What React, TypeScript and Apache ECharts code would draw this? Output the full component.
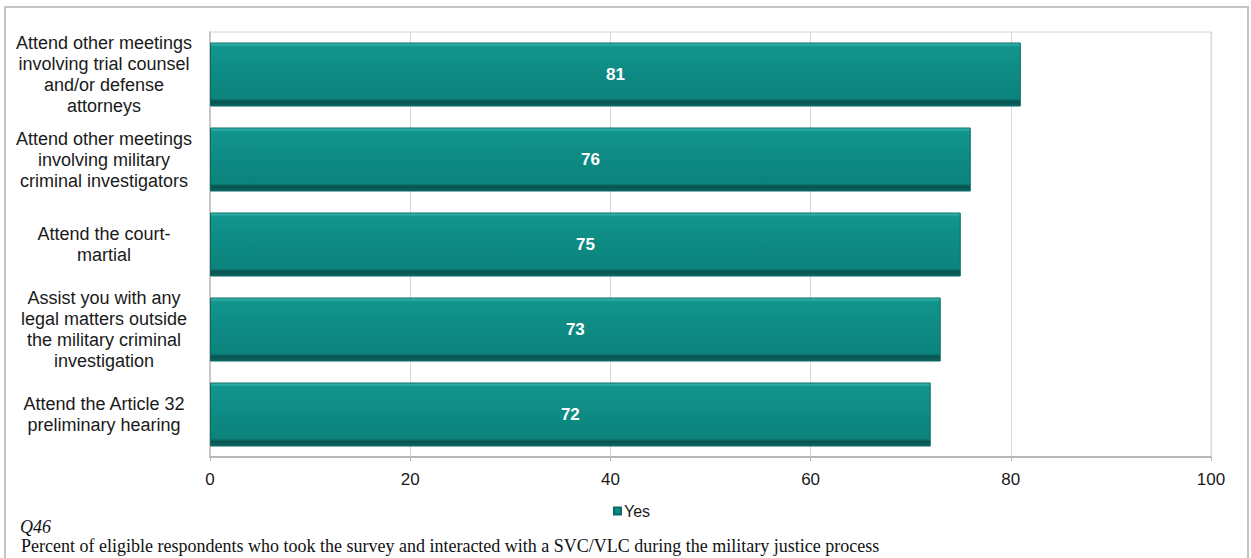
import React, { useEffect, useRef } from "react";
import * as echarts from "echarts";

const categories = [
  "Attend other meetings\ninvolving trial counsel\nand/or defense\nattorneys",
  "Attend other meetings\ninvolving military\ncriminal investigators",
  "Attend the court-\nmartial",
  "Assist you with any\nlegal matters outside\nthe military criminal\ninvestigation",
  "Attend the Article 32\npreliminary hearing",
];
const yesValues = [81, 76, 75, 73, 72];
const seriesName = "Yes";
const questionLabel = "Q46";
const footnote =
  "Percent of eligible respondents who took the survey and interacted with a SVC/VLC during the military justice process";

export default function App() {
  const ref = useRef<HTMLDivElement>(null);
  useEffect(() => {
    if (!ref.current) return;
    const chart = echarts.init(ref.current, null, { renderer: "svg" });
    chart.setOption({
      animation: false,
      backgroundColor: "#ffffff",
      grid: {
        left: 210,
        right: 40,
        top: 32,
        bottom: 101,
        show: true,
        borderColor: "#d4d4d4",
        borderWidth: 1,
      },
      xAxis: {
        type: "value",
        min: 0,
        max: 100,
        interval: 20,
        axisLine: { show: true, lineStyle: { color: "#b8b8b8", width: 2 } },
        axisTick: { show: true, length: 4, lineStyle: { color: "#b8b8b8" } },
        splitLine: { show: true, lineStyle: { color: "#d9d9d9" } },
        axisLabel: {
          color: "#1a1a1a",
          fontFamily: "Liberation Sans, Arial, sans-serif",
          fontSize: 17,
          margin: 14,
        },
      },
      yAxis: {
        type: "category",
        inverse: true,
        data: categories,
        axisLine: { show: true, lineStyle: { color: "#c8c8c8", width: 2 } },
        axisTick: { show: false },
        axisLabel: {
          color: "#1a1a1a",
          fontFamily: "Liberation Sans, Arial, sans-serif",
          fontSize: 18,
          lineHeight: 21,
          align: "center",
          margin: 106,
        },
      },
      legend: {
        data: [seriesName],
        left: 608,
        top: 498,
        icon: "rect",
        itemWidth: 7,
        itemHeight: 7,
        itemGap: 4,
        textStyle: {
          color: "#1a1a1a",
          fontFamily: "Liberation Sans, Arial, sans-serif",
          fontSize: 16,
          padding: [0, 0, 0, -2],
        },
      },
      series: [
        {
          name: seriesName,
          type: "bar",
          data: yesValues,
          barWidth: 64,
          itemStyle: {
            color: new echarts.graphic.LinearGradient(0, 0, 0, 1, [
              { offset: 0, color: "#3fbdb3" },
              { offset: 0.06, color: "#12958d" },
              { offset: 0.5, color: "#0d8a83" },
              { offset: 0.88, color: "#0c837d" },
              { offset: 0.93, color: "#09524e" },
              { offset: 1, color: "#0c6864" },
            ]),
            borderColor: "#0b6b66",
            borderWidth: 1,
          },
          label: {
            show: true,
            position: "inside",
            color: "#ffffff",
            fontFamily: "Liberation Sans, Arial, sans-serif",
            fontSize: 17,
            fontWeight: "bold",
          },
        },
      ],
      graphic: [
        {
          type: "rect",
          shape: { x: 5, y: 7, width: 1243, height: 560 },
          style: { fill: "none", stroke: "#c4c4c4", lineWidth: 2 },
          silent: true,
        },
        {
          type: "text",
          x: 20,
          y: 518,
          style: {
            text: questionLabel,
            fill: "#111111",
            font: "italic 18px 'Liberation Serif', 'Times New Roman', serif",
          },
        },
        {
          type: "text",
          x: 21,
          y: 537,
          style: {
            text: footnote,
            fill: "#111111",
            font: "18px 'Liberation Serif', 'Times New Roman', serif",
          },
        },
      ],
    });
    return () => chart.dispose();
  }, []);
  return (
    <div
      ref={ref}
      style={{ position: "absolute", left: 0, top: 0, width: 1251, height: 558 }}
    />
  );
}
